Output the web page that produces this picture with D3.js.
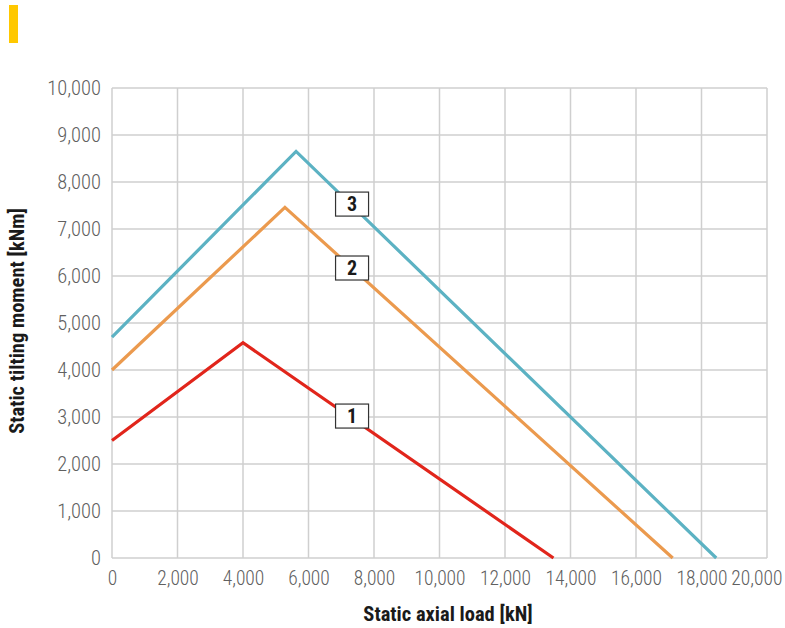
<!DOCTYPE html>
<html>
<head>
<meta charset="utf-8">
<script src="https://cdn.jsdelivr.net/npm/d3@7"></script>
<style>
  html, body { margin: 0; padding: 0; background: #fff; }
  svg { display: block; }
</style>
</head>
<body>
<svg id="chart" width="785" height="628"></svg>
<script>
// ---- data ----
const seriesNames = ["1", "2", "3"];
const seriesColors = ["#e1251b", "#eb9a4e", "#5cb2c3"];
const series1X = [0, 4000, 13480];
const series1Y = [2500, 4580, 0];
const series2X = [0, 5280, 17120];
const series2Y = [4000, 7460, 0];
const series3X = [0, 5620, 18450];
const series3Y = [4700, 8650, 0];
const labelX = [7330, 7330, 7330];
const labelY = [3020, 6170, 7530];
const xTicks = [0, 2000, 4000, 6000, 8000, 10000, 12000, 14000, 16000, 18000, 20000];
const yTicks = [0, 1000, 2000, 3000, 4000, 5000, 6000, 7000, 8000, 9000, 10000];
const xTitle = "Static axial load [kN]";
const yTitle = "Static tilting moment [kNm]";

const svg = d3.select("#chart");
const margin = { left: 112, right: 18, top: 88, bottom: 70 };
const W = 785, H = 628;

const x = d3.scaleLinear().domain([0, 20000]).range([margin.left, W - margin.right]);
const y = d3.scaleLinear().domain([0, 10000]).range([H - margin.bottom, margin.top]);

// yellow marker
svg.append("rect").attr("x", 9).attr("y", 5).attr("width", 9).attr("height", 38).attr("fill", "#ffc800");

const fmt = d3.format(",");
const condFont = "\"Liberation Sans Narrow\", \"Roboto Condensed\", \"DejaVu Sans Condensed\", Roboto, sans-serif";

// grid
const grid = svg.append("g");
grid.selectAll("line.v").data(xTicks).join("line")
  .attr("x1", d => x(d)).attr("x2", d => x(d))
  .attr("y1", y(0)).attr("y2", y(10000))
  .attr("stroke", "#cfcfcf").attr("stroke-width", 1.5);
grid.selectAll("line.h").data(yTicks).join("line")
  .attr("y1", d => y(d)).attr("y2", d => y(d))
  .attr("x1", x(0)).attr("x2", x(20000))
  .attr("stroke", "#cfcfcf").attr("stroke-width", 1.5);

// axes
const xAxis = svg.append("g").attr("transform", `translate(0,${y(0)})`)
  .call(d3.axisBottom(x).tickValues(xTicks).tickFormat(fmt).tickSize(0).tickPadding(13));
xAxis.select(".domain").remove();
xAxis.selectAll("text").attr("font-size", 19.5).attr("fill", "#606060")
  .attr("font-family", condFont).attr("font-weight", 300);
xAxis.selectAll(".tick").filter(d => d === 20000).select("text")
  .attr("text-anchor", "end").attr("x", 15);

const yAxis = svg.append("g").attr("transform", `translate(${x(0)},0)`)
  .call(d3.axisLeft(y).tickValues(yTicks).tickFormat(fmt).tickSize(0).tickPadding(11));
yAxis.select(".domain").remove();
yAxis.selectAll("text").attr("font-size", 20.5).attr("fill", "#606060")
  .attr("font-family", condFont).attr("font-weight", 300);

// lines
const allSeries = [
  series1X.map((v, i) => [v, series1Y[i]]),
  series2X.map((v, i) => [v, series2Y[i]]),
  series3X.map((v, i) => [v, series3Y[i]])
];
const line = d3.line().x(d => x(d[0])).y(d => y(d[1]));
svg.append("g").selectAll("path").data(allSeries).join("path")
  .attr("d", line)
  .attr("fill", "none")
  .attr("stroke", (d, i) => seriesColors[i])
  .attr("stroke-width", 3.2)
  .attr("stroke-linejoin", "miter");

// labels
const lab = svg.append("g").selectAll("g").data(seriesNames).join("g")
  .attr("transform", (d, i) => `translate(${x(labelX[i])},${y(labelY[i])})`);
lab.append("rect").attr("x", -16.5).attr("y", -12).attr("width", 33).attr("height", 24)
  .attr("fill", "#fff").attr("stroke", "#333").attr("stroke-width", 1.2);
lab.append("text").text(d => d)
  .attr("text-anchor", "middle").attr("dy", "0.36em")
  .attr("font-family", condFont).attr("font-weight", "bold")
  .attr("font-size", 20).attr("fill", "#1a1a1a");

// titles
svg.append("text").text(xTitle)
  .attr("x", 448).attr("y", 621).attr("text-anchor", "middle")
  .attr("font-family", condFont)
  .attr("font-weight", "bold").attr("font-size", 20.5).attr("fill", "#1a1a1a");
svg.append("text").text(yTitle)
  .attr("transform", "translate(24,321) rotate(-90)").attr("text-anchor", "middle")
  .attr("font-family", condFont)
  .attr("font-weight", "bold").attr("font-size", 20.5).attr("fill", "#1a1a1a");
</script>
</body>
</html>
